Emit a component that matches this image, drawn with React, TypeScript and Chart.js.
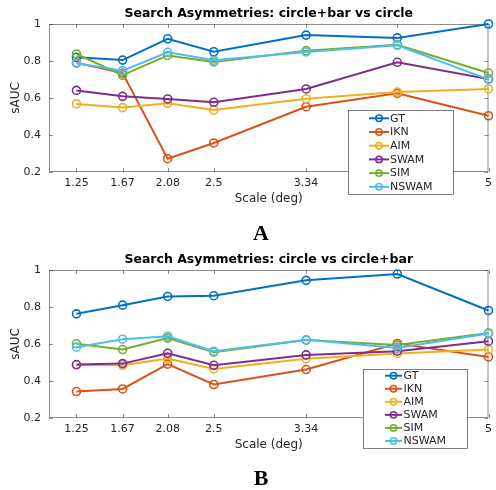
import React, { useEffect, useRef } from 'react';
import { Chart, registerables } from 'chart.js';

Chart.register(...registerables);

// ---------- data ----------
const seriesNames = ['GT', 'IKN', 'AIM', 'SWAM', 'SIM', 'NSWAM'];
const seriesColors = ['#0072BD', '#D95319', '#EDB120', '#7E2F8E', '#77AC30', '#4DBEEE'];
const scaleValues = [1.25, 1.67, 2.08, 2.5, 3.34, 4.17, 5];
const xTickLabels = ['1.25', '1.67', '2.08', '2.5', '3.34', '4.17', '5'];
const yTickValues = [0.2, 0.4, 0.6, 0.8, 1];
const yTickLabels = ['0.2', '0.4', '0.6', '0.8', '1'];

const titleA = 'Search Asymmetries: circle+bar vs circle';
const titleB = 'Search Asymmetries: circle vs circle+bar';

// Panel A: circle+bar vs circle
const gtA = [0.82, 0.805, 0.92, 0.85, 0.94, 0.925, 1.0];
const iknA = [0.79, 0.735, 0.272, 0.357, 0.553, 0.625, 0.504];
const aimA = [0.568, 0.548, 0.571, 0.535, 0.596, 0.632, 0.649];
const swamA = [0.641, 0.609, 0.595, 0.577, 0.649, 0.793, 0.703];
const simA = [0.838, 0.723, 0.83, 0.795, 0.856, 0.888, 0.735];
const nswamA = [0.788, 0.748, 0.847, 0.804, 0.849, 0.885, 0.701];

// Panel B: circle vs circle+bar
const gtB = [0.763, 0.81, 0.857, 0.861, 0.944, 0.978, 0.781];
const iknB = [0.343, 0.357, 0.491, 0.381, 0.462, 0.603, 0.53];
const aimB = [0.487, 0.485, 0.521, 0.465, 0.52, 0.549, 0.57];
const swamB = [0.489, 0.494, 0.55, 0.485, 0.541, 0.561, 0.615];
const simB = [0.601, 0.57, 0.632, 0.556, 0.621, 0.594, 0.66];
const nswamB = [0.583, 0.626, 0.642, 0.561, 0.623, 0.579, 0.657];

const seriesA = [gtA, iknA, aimA, swamA, simA, nswamA];
const seriesB = [gtB, iknB, aimB, swamB, simB, nswamB];

// ---------- style ----------
const FONT = '"DejaVu Sans", sans-serif';
const TEXT = '#262626';
const AXIS = '#404040';

type LegendCfg = {
  x: number; y: number; w: number; h: number;
  firstRow: number; rowH: number; lineX: number; lineLen: number; textX: number;
};

const boxPlugin = {
  id: 'matlabBox',
  beforeDatasetsDraw(chart: any) {
    const { ctx, chartArea: a, scales } = chart;
    ctx.save();
    ctx.strokeStyle = AXIS;
    ctx.lineWidth = 0.6;
    ctx.strokeRect(a.left + 0.5, a.top + 0.5, a.right - a.left - 1, a.bottom - a.top - 1);
    const tl = 4;
    ctx.beginPath();
    scales.x.ticks.forEach((t: any) => {
      const px = Math.round(scales.x.getPixelForValue(t.value)) + 0.5;
      ctx.moveTo(px, a.bottom); ctx.lineTo(px, a.bottom - tl);
      ctx.moveTo(px, a.top); ctx.lineTo(px, a.top + tl);
    });
    scales.y.ticks.forEach((t: any) => {
      const py = Math.round(scales.y.getPixelForValue(t.value)) + 0.5;
      ctx.moveTo(a.left, py); ctx.lineTo(a.left + tl, py);
      ctx.moveTo(a.right, py); ctx.lineTo(a.right - tl, py);
    });
    ctx.stroke();
    ctx.restore();
  },
};

const legendPlugin = {
  id: 'matlabLegend',
  afterDraw(chart: any, _args: any, opts: any) {
    const cfg: LegendCfg = opts.cfg;
    if (!cfg) return;
    const { ctx } = chart;
    ctx.save();
    ctx.fillStyle = '#ffffff';
    ctx.fillRect(cfg.x, cfg.y, cfg.w, cfg.h);
    ctx.strokeStyle = '#262626';
    ctx.lineWidth = 0.6;
    ctx.strokeRect(cfg.x + 0.5, cfg.y + 0.5, cfg.w, cfg.h);
    ctx.font = `11px ${FONT}`;
    ctx.textBaseline = 'middle';
    ctx.textAlign = 'left';
    chart.data.datasets.forEach((ds: any, i: number) => {
      const y = cfg.firstRow + i * cfg.rowH;
      ctx.strokeStyle = ds.borderColor;
      ctx.lineWidth = 2;
      ctx.beginPath();
      ctx.moveTo(cfg.lineX, y);
      ctx.lineTo(cfg.lineX + cfg.lineLen, y);
      ctx.stroke();
      ctx.lineWidth = 1.5;
      ctx.beginPath();
      ctx.arc(cfg.lineX + cfg.lineLen / 2, y, 3.2, 0, Math.PI * 2);
      ctx.stroke();
      ctx.fillStyle = TEXT;
      ctx.fillText(ds.label, cfg.textX, y + 0.5);
    });
    ctx.restore();
  },
};

function Panel(props: { title: string; series: number[][]; legend: LegendCfg; top: number }) {
  const ref = useRef<HTMLCanvasElement | null>(null);
  useEffect(() => {
    if (!ref.current) return;
    const datasets = seriesNames.map((name, i) => ({
      label: name,
      data: scaleValues.map((x, j) => ({ x, y: props.series[i][j] })),
      borderColor: seriesColors[i],
      backgroundColor: seriesColors[i],
      pointBorderColor: seriesColors[i],
      pointBackgroundColor: 'rgba(0,0,0,0)',
      borderWidth: 2,
      pointRadius: 4,
      pointBorderWidth: 1.6,
      tension: 0,
      clip: 8,
      order: seriesNames.length - i,
    }));
    const chart = new Chart(ref.current, {
      type: 'line',
      data: { datasets },
      plugins: [boxPlugin, legendPlugin],
      options: {
        animation: false,
        responsive: false,
        devicePixelRatio: 1,
        layout: { padding: { left: 0, right: 5, top: 0, bottom: 39 } },
        plugins: {
          legend: { display: false },
          tooltip: { enabled: false },
          title: {
            display: true,
            fullSize: false,
            text: props.title,
            color: '#000000',
            font: { family: FONT, size: 12.5, weight: 'bold', lineHeight: '14px' },
            padding: { top: 7, bottom: 3 },
          },
          matlabLegend: { cfg: props.legend },
        } as any,
        scales: {
          x: {
            type: 'linear',
            min: 1,
            max: 5,
            afterBuildTicks: (s: any) => { s.ticks = scaleValues.map((v) => ({ value: v })); },
            afterFit: (s: any) => { s.height = 34; },
            ticks: {
              autoSkip: false,
              maxRotation: 0,
              padding: 4,
              color: TEXT,
              font: { family: FONT, size: 11, lineHeight: '14px' },
              callback: (v: any) => {
                const k = scaleValues.indexOf(Number(v));
                return k >= 0 ? xTickLabels[k] : '';
              },
            },
            grid: { display: false, drawTicks: false },
            border: { display: false },
            title: {
              display: true,
              text: 'Scale (deg)',
              color: TEXT,
              font: { family: FONT, size: 12, lineHeight: '14px' },
              padding: { top: 0, bottom: 0 },
            },
          },
          y: {
            type: 'linear',
            min: 0.2,
            max: 1,
            afterBuildTicks: (s: any) => { s.ticks = yTickValues.map((v) => ({ value: v })); },
            afterFit: (s: any) => { s.width = 49; },
            ticks: {
              autoSkip: false,
              padding: 8,
              color: TEXT,
              font: { family: FONT, size: 11, lineHeight: '14px' },
              callback: (v: any) => {
                const k = yTickValues.findIndex((t) => Math.abs(t - Number(v)) < 1e-9);
                return k >= 0 ? yTickLabels[k] : '';
              },
            },
            grid: { display: false, drawTicks: false },
            border: { display: false },
            title: {
              display: true,
              text: 'sAUC',
              color: TEXT,
              font: { family: FONT, size: 12, lineHeight: '14px' },
              padding: { top: 9, bottom: 0 },
            },
          },
        },
      } as any,
    });
    return () => chart.destroy();
  }, []);
  return (
    <canvas
      ref={ref}
      width={496}
      height={245}
      style={{ position: 'absolute', left: 0, top: props.top, width: 496, height: 245 }}
    />
  );
}

const legendA: LegendCfg = { x: 348, y: 110, w: 105, h: 84, firstRow: 118.3, rowH: 13.7, lineX: 369, lineLen: 20, textX: 390 };
const legendB: LegendCfg = { x: 363, y: 123, w: 104, h: 79, firstRow: 129.7, rowH: 13.05, lineX: 385, lineLen: 17, textX: 403.5 };

const letterStyle: React.CSSProperties = {
  position: 'absolute',
  left: 0,
  width: 522,
  textAlign: 'center',
  fontFamily: '"Liberation Serif", "DejaVu Serif", serif',
  fontWeight: 'bold',
  fontSize: 22,
  lineHeight: '22px',
  color: '#000',
};

export default function App() {
  return (
    <div style={{ position: 'relative', width: 496, height: 490, overflow: 'hidden', background: '#fff' }}>
      <style>{`body{margin:0;}`}</style>
      <Panel title={titleA} series={seriesA} legend={legendA} top={0} />
      <div style={{ ...letterStyle, top: 222 }}>A</div>
      <Panel title={titleB} series={seriesB} legend={legendB} top={246} />
      <div style={{ ...letterStyle, top: 467 }}>B</div>
    </div>
  );
}
